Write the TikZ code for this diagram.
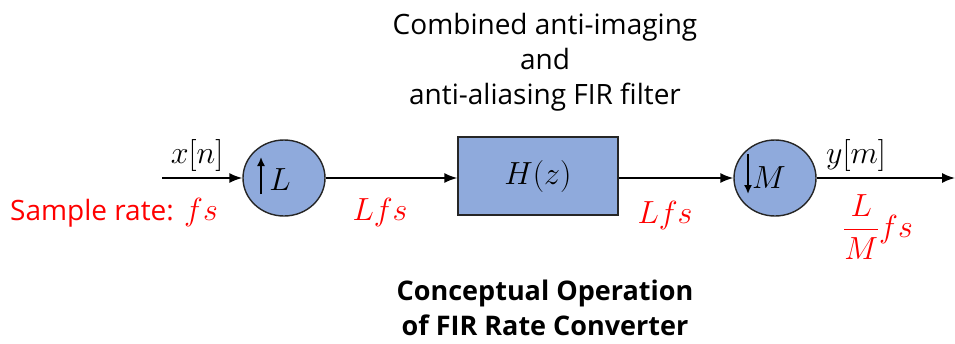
\RequirePackage{fix-cm}
\documentclass[tikz,border=0pt]{standalone}
\usepackage{amsmath}
\usepackage{fontspec}
\setmainfont{Open Sans}
\usetikzlibrary{arrows.meta,shapes.geometric}
\definecolor{boxblue}{RGB}{143,170,220}
\definecolor{rateRed}{RGB}{255,0,0}
\begin{document}
\begin{tikzpicture}[x=1pt,y=-1pt,
  conn/.style={line width=1.6pt,-{Latex[length=13pt,width=10pt]}},
  blk/.style={draw=black!85,line width=1.4pt,fill=boxblue},
  disc/.style={blk,ellipse,minimum width=82pt,minimum height=76pt,inner sep=0pt},
  title/.style={font=\fontsize{28}{35}\selectfont,align=center},
  btitle/.style={font=\fontsize{27}{35}\selectfont\bfseries,align=center},
  sig/.style={font=\fontsize{32}{36}\selectfont,inner sep=0pt},
  rate/.style={font=\fontsize{28}{32}\selectfont,text=rateRed,inner sep=0pt},
  rmath/.style={font=\fontsize{32}{36}\selectfont,text=rateRed,inner sep=0pt},
  inarrow/.style={line width=1.6pt,-{Latex[length=9pt,width=8pt]}}
]
\useasboundingbox (0,0) rectangle (955,343);
% blocks
\node[disc] (up) at (284,178) {};
\node[blk,minimum width=160pt,minimum height=78pt,inner sep=0pt] (h) at (538,176) {};
\node[sig] (hlabel) at (h.center) {$H(z)$};
\node[disc] (down) at (775,178) {};
% coordinates for free ends
\coordinate (in) at (162,178);
\coordinate (out) at (955,178);
% connectors
\draw[conn] (in) -- (up.west);
\draw[conn] (up.east) -- (h.west |- up.east);
\draw[conn] (h.east |- down.west) -- (down.west);
\draw[conn] (down.east) -- (out);
% inner symbols
\coordinate (ua) at (261,194);
\coordinate (ub) at (261,157);
\draw[inarrow] (ua) -- (ub);
\node[sig] (Lsym) at (280,180) {$L$};
\coordinate (da) at (748,154);
\coordinate (db) at (748,194);
\draw[inarrow] (da) -- (db);
\node[sig] (Msym) at (769,178) {$M$};
% signal labels
\node[sig] (xn) at (197,155) {$x[n]$};
\node[sig] (ym) at (856,155) {$y[m]$};
% rates
\node[rate] (sr) at (92,213) {Sample rate:};
\node[rmath,anchor=base west] (srfs) at ([xshift=10pt]sr.base east) {$fs$};
\node[rmath] (r1) at (380,212) {$Lfs$};
\node[rmath] (r2) at (665,215) {$Lfs$};
\node[rmath] (r3) at (878,227) {$\dfrac{L}{M}fs$};
% titles
\node[title] (t1) at (545,62) {Combined anti-imaging\\and\\anti-aliasing FIR filter};
\node[btitle] (t2) at (545,308) {Conceptual Operation\\of FIR Rate Converter};
\end{tikzpicture}
\end{document}
